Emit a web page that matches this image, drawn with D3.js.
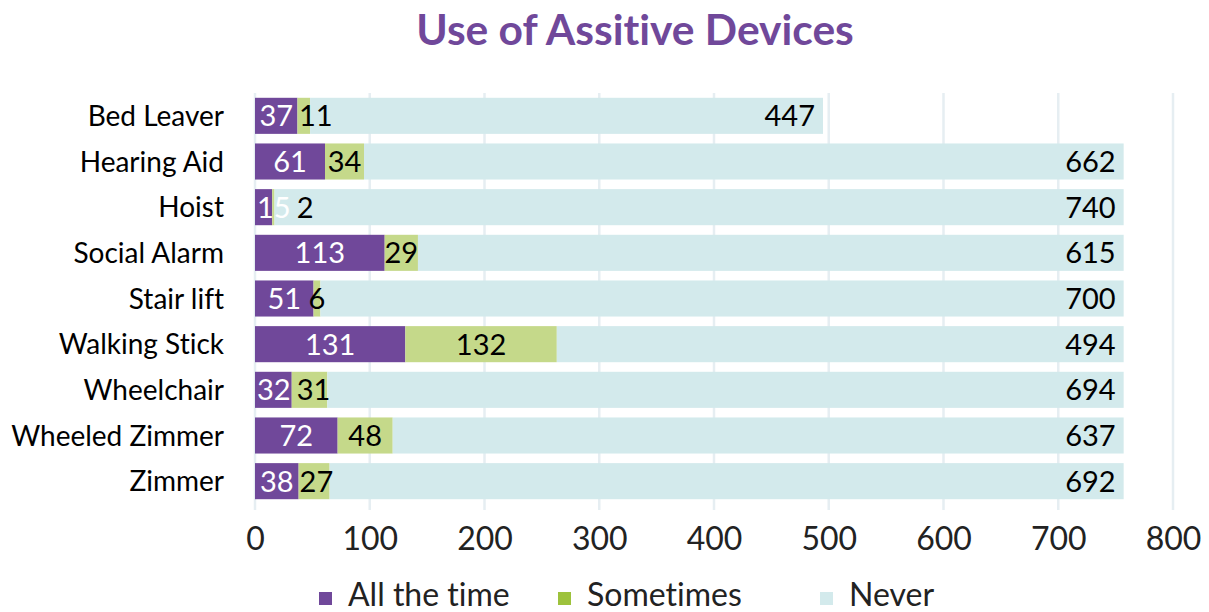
<!DOCTYPE html>
<html>
<head>
<meta charset="utf-8">
<script src="https://cdn.jsdelivr.net/npm/d3@7"></script>
<style>
  html, body { margin: 0; padding: 0; background: #ffffff; }
  svg { display: block; font-family: Lato, "Open Sans", sans-serif; font-variant-ligatures: none; font-feature-settings: "liga" 0; }
</style>
</head>
<body>
<svg id="chart" width="1209" height="612"></svg>
<script>
// Device names, one bar per device
const categories = ["Bed Leaver", "Hearing Aid", "Hoist", "Social Alarm", "Stair lift",
                    "Walking Stick", "Wheelchair", "Wheeled Zimmer", "Zimmer"];
// Number of respondents per answer
const allTheTime = [37, 61, 15, 113, 51, 131, 32, 72, 38];
const sometimes  = [11, 34, 2, 29, 6, 132, 31, 48, 27];
const never      = [447, 662, 740, 615, 700, 494, 694, 637, 692];
const seriesNames = ["All the time", "Sometimes", "Never"];
const xTickValues = [0, 100, 200, 300, 400, 500, 600, 700, 800];

const colors = { "All the time": "#70489a", "Sometimes": "#c5d98a", "Never": "#d3eaec" };
const legendColors = { "All the time": "#70489a", "Sometimes": "#9dc23c", "Never": "#d3eaec" };
const labelColors = { "All the time": "#ffffff", "Sometimes": "#000000", "Never": "#000000" };

const svg = d3.select("#chart");
const plot = { left: 255, right: 1173, top: 93, bottom: 504 };

const rows = categories.map((c, i) => ({
  name: c,
  "All the time": allTheTime[i],
  "Sometimes": sometimes[i],
  "Never": never[i]
}));
const stacked = d3.stack().keys(seriesNames)(rows);

const x = d3.scaleLinear().domain([0, 800]).range([plot.left, plot.right]);
const y = d3.scaleBand().domain(categories).range([plot.top, plot.bottom])
  .paddingInner(0.21).paddingOuter(0.105);

// Title
svg.append("text")
  .attr("x", 635).attr("y", 45)
  .attr("text-anchor", "middle")
  .attr("font-size", 42.5).attr("font-weight", 700)
  .attr("fill", "#70489a")
  .text("Use of Assitive Devices");

// Vertical gridlines
svg.append("g").selectAll("line").data(xTickValues).join("line")
  .attr("x1", d => x(d)).attr("x2", d => x(d))
  .attr("y1", plot.top).attr("y2", 510)
  .attr("stroke", "#e6eef2").attr("stroke-width", 2.5);

// Stacked bars
const layers = svg.append("g").selectAll("g").data(stacked).join("g")
  .attr("fill", d => colors[d.key]);
layers.selectAll("rect").data(d => d).join("rect")
  .attr("x", d => x(d[0]))
  .attr("width", d => x(d[1]) - x(d[0]))
  .attr("y", d => y(d.data.name))
  .attr("height", y.bandwidth());

// Value labels: centred in their segment, kept right of the axis and
// nudged right where they would collide with the previous label
const labelG = svg.append("g").attr("font-size", 29);
categories.forEach((cat, i) => {
  let prevRight = plot.left - 4;
  stacked.forEach(layer => {
    const seg = layer[i];
    const v = seg[1] - seg[0];
    const t = labelG.append("text")
      .attr("y", y(cat) + y.bandwidth() / 2)
      .attr("dy", "0.36em")
      .attr("fill", labelColors[layer.key])
      .text(v);
    const w = t.node().getComputedTextLength();
    let cx;
    if (layer.key === "Never") {
      cx = x(seg[1]) - 8 - w / 2;
    } else {
      cx = (x(seg[0]) + x(seg[1])) / 2;
      if (cx - w / 2 < prevRight + 6) cx = prevRight + 6 + w / 2;
    }
    t.attr("x", cx).attr("text-anchor", "middle");
    prevRight = cx + w / 2;
  });
});

// Category axis labels
svg.append("g").selectAll("text").data(categories).join("text")
  .attr("x", 224)
  .attr("y", d => y(d) + y.bandwidth() / 2)
  .attr("dy", "0.36em")
  .attr("text-anchor", "end")
  .attr("font-size", 28)
  .attr("fill", "#000")
  .text(d => d);

// Value axis
const xAxis = d3.axisBottom(x).tickValues(xTickValues).tickSize(0).tickPadding(0);
const axisG = svg.append("g").attr("transform", "translate(0,527)").call(xAxis);
axisG.select(".domain").remove();
axisG.selectAll("text")
  .attr("font-size", 32)
  .attr("font-family", "Lato, sans-serif")
  .attr("fill", "#222")
  .attr("dy", "0.71em");

// Legend
const legendX = [319, 558, 820];
const legend = svg.append("g").selectAll("g").data(seriesNames).join("g")
  .attr("transform", (d, i) => `translate(${legendX[i]},0)`);
legend.append("rect")
  .attr("x", 0).attr("y", 592).attr("width", 13).attr("height", 13)
  .attr("fill", d => legendColors[d]);
legend.append("text")
  .attr("x", 29).attr("y", 606)
  .attr("font-size", 32)
  .attr("fill", "#222")
  .text(d => d);
</script>
</body>
</html>
